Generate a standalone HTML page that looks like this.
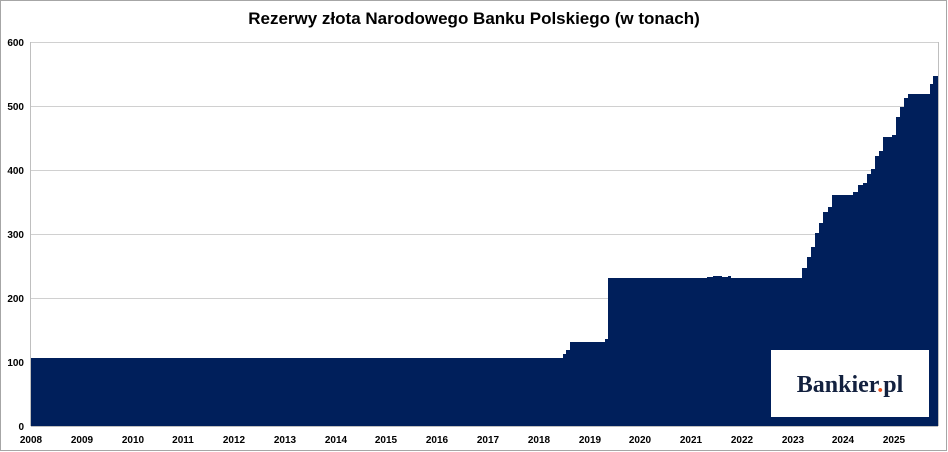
<!DOCTYPE html>
<html><head><meta charset="utf-8"><style>
body{margin:0;background:#fff;}
svg{display:block;font-family:"Liberation Sans",sans-serif;}
</style></head><body>
<svg width="948" height="452" viewBox="0 0 948 452">
<rect x="0.5" y="0.5" width="946" height="450" fill="#fff" stroke="#a6a6a6"/>
<text x="474" y="24" text-anchor="middle" font-size="17" font-weight="bold" fill="#000">Rezerwy złota Narodowego Banku Polskiego (w tonach)</text>
<g stroke="#d0d0d0" stroke-width="1">
<line x1="31" y1="42.5" x2="938" y2="42.5"/>
<line x1="31" y1="106.5" x2="938" y2="106.5"/>
<line x1="31" y1="170.5" x2="938" y2="170.5"/>
<line x1="31" y1="234.5" x2="938" y2="234.5"/>
<line x1="31" y1="298.5" x2="938" y2="298.5"/>
<line x1="31" y1="362.5" x2="938" y2="362.5"/>
</g>
<line x1="938.5" y1="42" x2="938.5" y2="426" stroke="#bfbfbf"/>
<line x1="30.5" y1="42" x2="30.5" y2="426" stroke="#bfbfbf"/>
<path fill="#001f5b" d="M31,426 V358 H563 V354 H566 V350 H570 V342 H605 V339 H608 V278 H707 V277 H713 V276 H722 V277 H728 V276 H731 V278 H802 V268 H807 V257 H811 V247 H815 V233 H819 V223 H823 V212 H828 V207 H832 V195 H853 V192 H858 V185 H863 V183 H867 V174 H871 V169 H875 V156 H879 V151 H883 V137 H892 V135 H896 V117 H900 V107 H904 V98 H908 V94 H930 V84 H933 V76 H938 V426 Z"/>
<line x1="31" y1="426.5" x2="938" y2="426.5" stroke="#bfbfbf"/>
<g font-size="10" font-weight="bold" fill="#000" text-anchor="end">
<text x="24" y="46">600</text><text x="24" y="110">500</text><text x="24" y="174">400</text>
<text x="24" y="238">300</text><text x="24" y="302">200</text><text x="24" y="366">100</text><text x="24" y="430">0</text>
</g>
<g font-size="10" font-weight="bold" fill="#000" text-anchor="middle">
<text x="31" y="443">2008</text><text x="82" y="443">2009</text><text x="133" y="443">2010</text><text x="183" y="443">2011</text>
<text x="234" y="443">2012</text><text x="285" y="443">2013</text><text x="336" y="443">2014</text><text x="386" y="443">2015</text>
<text x="437" y="443">2016</text><text x="488" y="443">2017</text><text x="539" y="443">2018</text><text x="590" y="443">2019</text>
<text x="640" y="443">2020</text><text x="691" y="443">2021</text><text x="742" y="443">2022</text><text x="793" y="443">2023</text>
<text x="843" y="443">2024</text><text x="894" y="443">2025</text>
</g>
<rect x="771" y="350" width="158" height="67" fill="#fff"/>
<text x="850" y="392" text-anchor="middle" font-family="'Liberation Serif',serif" font-size="24" font-weight="bold" fill="#13213f">Bankier<tspan fill="#e8501e">.</tspan>pl</text>
</svg>
</body></html>
